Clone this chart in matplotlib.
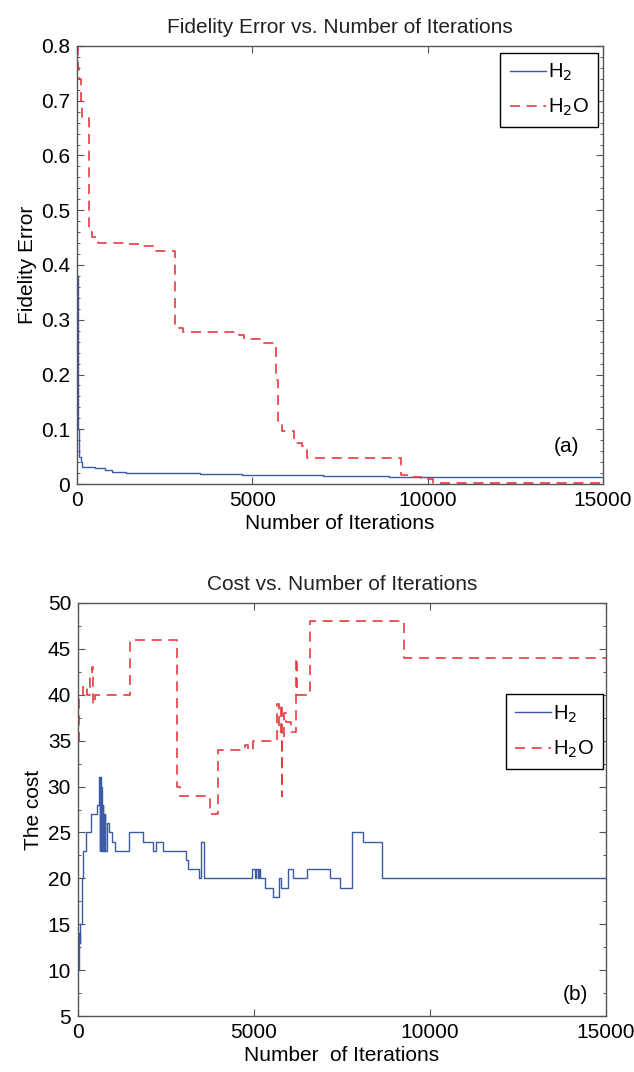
import matplotlib
matplotlib.use("Agg")
import matplotlib.pyplot as plt
from matplotlib.ticker import AutoMinorLocator

plt.rcParams['font.family'] = ['Liberation Sans', 'DejaVu Sans']

# (a) fidelity error, step data
fid_h2_x = [0, 20, 40, 60, 100, 130, 500, 800, 1000, 1400, 3500, 4700, 7000, 8900, 15000]
fid_h2_y = [0.38, 0.20, 0.10, 0.05, 0.040, 0.031, 0.029, 0.025, 0.022, 0.020, 0.019, 0.017, 0.015, 0.0125, 0.0125]

fid_h2o_x = [0, 20, 60, 100, 150, 340, 430, 600, 1400, 1850, 2200, 2800, 2880, 3020, 4630, 4750,
             5300, 5670, 5730, 5840, 6180, 6420, 6550, 9240, 9500, 9800, 10150, 15000]
fid_h2o_y = [0.80, 0.76, 0.74, 0.70, 0.668, 0.46, 0.452, 0.440, 0.438, 0.435, 0.425, 0.29, 0.285,
             0.277, 0.273, 0.265, 0.258, 0.19, 0.115, 0.097, 0.075, 0.070, 0.048, 0.0164, 0.0134,
             0.010, 0.0025, 0.0025]

# (b) cost
cost_h2_x = [0, 25, 40, 55, 70, 100, 140, 220, 370, 540, 600, 620, 635, 650, 665, 680, 700, 715,
             730, 745, 760, 775, 815, 880, 960, 1040, 1440, 1840, 2130, 2220, 2420, 3070, 3130,
             3440, 3500, 3590, 4930, 5040, 5070, 5100, 5130, 5170, 5310, 5550, 5700, 5760, 5970,
             6120, 6500, 7160, 7440, 7780, 8110, 8650, 15000]
cost_h2_y = [10, 12, 14, 13, 15, 20, 23, 25, 27, 28, 31, 23, 31, 23, 30, 23, 28, 23,
             27, 23, 27, 23, 26, 25, 24, 23, 25, 24, 23, 24, 23, 22, 21,
             20, 24, 20, 21, 20, 21, 20, 21, 20, 19, 18, 20, 19, 21,
             20, 21, 20, 19, 25, 24, 20, 20]

cost_h2o_x = [0, 40, 140, 250, 330, 400, 430, 480, 1470, 2800, 2900, 3740, 3980, 4740, 4830, 4980,
              5640, 5700, 5760, 5790, 5800, 5850, 5900, 6050, 6200, 6230, 6600, 9250, 15000]
cost_h2o_y = [35, 40, 41, 40, 42, 43, 39, 40, 46, 30, 29, 27, 34, 34.5, 34, 35,
              39, 36, 39, 29, 35, 38, 37, 36, 44, 40, 48, 44, 44]

BLUE = '#3b5ba9'
RED = '#e8393f'
SPINE = '#555555'


def style_axes(ax, minor_div):
    for s in ax.spines.values():
        s.set_color(SPINE)
        s.set_linewidth(1.0)
    ax.tick_params(direction='in', top=True, right=True, labelsize=15,
                   length=5, width=0.8, color=SPINE, pad=5)
    ax.yaxis.set_minor_locator(AutoMinorLocator(minor_div))
    ax.tick_params(which='minor', direction='in', right=True, left=True,
                   length=2.5, width=0.7, color=SPINE)
    ax.set_xlim(0, 15000)
    ax.set_xticks([0, 5000, 10000, 15000])


def add_legend(ax, anchor):
    leg = ax.legend(loc='upper right', bbox_to_anchor=anchor, fontsize=14.5,
                    handlelength=1.8, handletextpad=0.1, fancybox=False, framealpha=1,
                    edgecolor='black', borderaxespad=0, labelspacing=0.7, borderpad=0.45)
    leg.get_frame().set_linewidth(1.0)
    return leg


fig = plt.figure(figsize=(6.34, 10.72), dpi=100)

ax1 = fig.add_axes([0.1215, 0.5485, 0.8297, 0.4086])
ax1.plot(fid_h2_x, fid_h2_y, drawstyle='steps-post', color=BLUE, lw=1.0, label='H$_2$')
ax1.plot(fid_h2o_x, fid_h2o_y, drawstyle='steps-post', color=RED, lw=1.2,
         dashes=(6, 4), label='H$_2$O')
ax1.set_ylim(0, 0.8)
ax1.set_yticks([0, 0.1, 0.2, 0.3, 0.4, 0.5, 0.6, 0.7, 0.8])
ax1.set_yticklabels(['0', '0.1', '0.2', '0.3', '0.4', '0.5', '0.6', '0.7', '0.8'])
style_axes(ax1, 5)
ax1.set_title('Fidelity Error vs. Number of Iterations', fontsize=15, pad=9, color='#222222')
ax1.set_xlabel('Number of Iterations', fontsize=15, labelpad=3)
ax1.set_ylabel('Fidelity Error', fontsize=15, labelpad=3)
ax1.text(13950, 0.069, '(a)', fontsize=15, ha='center', va='center')
add_legend(ax1, (0.990, 0.985))

ax2 = fig.add_axes([0.1230, 0.0522, 0.8328, 0.3853])
ax2.plot(cost_h2_x, cost_h2_y, drawstyle='steps-post', color=BLUE, lw=1.0, label='H$_2$')
ax2.plot(cost_h2o_x, cost_h2o_y, drawstyle='steps-post', color=RED, lw=1.2,
         dashes=(6, 4), label='H$_2$O')
ax2.set_ylim(5, 50)
ax2.set_yticks(range(5, 51, 5))
style_axes(ax2, 2)
ax2.set_title('Cost vs. Number of Iterations', fontsize=15, pad=9, color='#222222')
ax2.set_xlabel('Number  of Iterations', fontsize=15, labelpad=3)
ax2.set_ylabel('The cost', fontsize=15, labelpad=3)
ax2.text(14120, 7.4, '(b)', fontsize=15, ha='center', va='center')
add_legend(ax2, (0.995, 0.779))

fig.savefig('out.png', dpi=100)
